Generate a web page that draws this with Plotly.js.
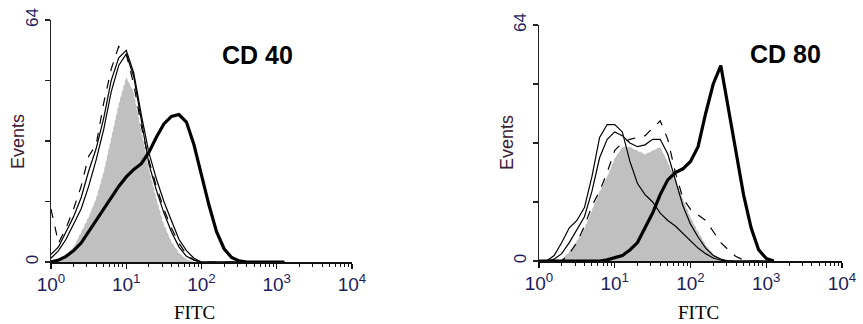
<!DOCTYPE html>
<html><head><meta charset="utf-8">
<script src="https://cdn.plot.ly/plotly-3.0.1.min.js"></script>
<style>html,body{margin:0;padding:0;background:#fff;}#chart{width:863px;height:324px;}</style>
</head><body><div id="chart"></div>
<script>
// log10(FITC) channel positions (decades)
const logGrid = [0,0.1,0.2,0.3,0.4,0.5,0.6,0.7,0.8,0.9,1.0,1.1,1.2,1.3,1.4,1.5,1.6,1.7,1.8,1.9,2.0,2.1,2.2,2.3,2.4,2.5,2.6,2.7,2.8,2.9,3.0,3.1];

// CD 40 panel (events)
const cd40_isotype = [0,0.5,2,4,8,12,17,24,33,42,49,45,35,25,17,10,5.5,2.5,0.8,0,0,0,0,0,0,0,0,0,0,0,0,0];
const cd40_thinA   = [2,4,8,12,17,24,30,38,48,54,56,50,39,29,22,16,11,6,3,1,0,0,0,0,0,0,0,0,0,0,0,0];
const cd40_thinB   = [1,3,6,10,14,20,27,35,45,52,55,49,37,26,19,13,8,4,1.5,0.5,0,0,0,0,0,0,0,0,0,0,0,0];
const cd40_dashed  = [14,5,9,14,20,28,31,42,51,57,55,47,36,27,20,14,9,5,2,0.5,0,0,0,0,0,0,0,0,0,0,0,0];
const cd40_stained = [0,0.5,1.5,3,5,8,11,14,17,20,22.5,24.5,26,29,33,36.5,38.5,39,37,31,23,15,8,3.5,1.2,0.3,0,0,0,0,0,0];

// CD 80 panel (events)
const cd80_isotype = [0,0,0,0.5,2.5,5.5,9,14,19,23,28,31,31,30,29,30,31,27,22,16.5,12,8,4.5,2,0.5,0,0,0,0,0,0,0];
const cd80_thinA   = [0,0,1.5,5,9,11,14.5,23,33.5,37,37,35,27,21,18,16,13,11,9.5,7.5,5.5,3.5,2,0.8,0.2,0,0,0,0,0,0,0];
const cd80_thinB   = [0,0,0.5,2,5,8.5,12,19,28,33,35,34,32,31,31.5,33,33,29,22,15,10,6.5,3.5,1.5,0.5,0,0,0,0,0,0,0];
const cd80_dashed  = [0,0,0,0,2,5,9.5,15,19,24,30,32,33,33.5,34,36,38,33,24,17,14,12.5,11,8,5,3,1.2,0.3,0,0,0,0];
const cd80_stained = [0,0,0,0,0,0,0,0,0,0.3,0.8,1.5,3,5,9,13,18,22,24,25,27,31,40,48,53,41,30,18,9,3,0.7,0];

const xTickVals = [1,10,100,1000,10000];
const xTickText = ['10<sup>0</sup>','10<sup>1</sup>','10<sup>2</sup>','10<sup>3</sup>','10<sup>4</sup>'];
const yTickVals = [0,16,32,48,64];
const yTickText = ['0','','','','64'];
const panelTitles = ['CD 40','CD 80'];
const xLabel = 'FITC';
const yLabel = 'Events';

const fitc = logGrid.map(l => Math.pow(10, l));
const minorVals = [];
for (let d = 0; d < 4; d++) for (let m = 2; m <= 9; m++) minorVals.push(m * Math.pow(10, d));

function panel(iso, a, b, dsh, st, xa, ya) {
  return [
    {x: fitc, y: iso, xaxis: xa, yaxis: ya, type: 'scatter', mode: 'lines', fill: 'tozeroy',
     fillcolor: '#c0c0c0', line: {color: '#ffffff', width: 1, dash: 'dot'}},
    {x: fitc, y: a, xaxis: xa, yaxis: ya, type: 'scatter', mode: 'lines', line: {color: '#000', width: 1.2}},
    {x: fitc, y: b, xaxis: xa, yaxis: ya, type: 'scatter', mode: 'lines', line: {color: '#000', width: 1.2}},
    {x: fitc, y: dsh, xaxis: xa, yaxis: ya, type: 'scatter', mode: 'lines', line: {color: '#000', width: 1.2, dash: 'dash'}},
    {x: fitc, y: st, xaxis: xa, yaxis: ya, type: 'scatter', mode: 'lines', line: {color: '#000', width: 3.2}}
  ];
}

const data = [].concat(
  panel(cd40_isotype, cd40_thinA, cd40_thinB, cd40_dashed, cd40_stained, 'x', 'y'),
  panel(cd80_isotype, cd80_thinA, cd80_thinB, cd80_dashed, cd80_stained, 'x2', 'y2')
);

function xaxis(dom, anchor) {
  return {type: 'log', range: [0, 4], domain: dom, anchor: anchor,
    showline: true, linecolor: '#111', linewidth: 1.5, showgrid: false, zeroline: false,
    tickmode: 'array', tickvals: xTickVals, ticktext: xTickText,
    ticks: 'outside', ticklen: 5, tickwidth: 1.2, tickcolor: '#111',
    tickfont: {family: 'Liberation Sans, Arial', size: 19, color: '#221c5c'},
    minor: {tickmode: 'array', tickvals: minorVals, ticks: 'outside', ticklen: 3, tickwidth: 1, tickcolor: '#111', showgrid: false}};
}
function yaxis(dom, anchor) {
  return {range: [0, 64], domain: dom, anchor: anchor,
    showline: true, linecolor: '#222', linewidth: 1.5, showgrid: false, zeroline: false,
    tickmode: 'array', tickvals: yTickVals, ticktext: yTickText, tickangle: -90,
    ticks: 'outside', ticklen: 5, tickwidth: 1.2, tickcolor: '#222',
    tickfont: {family: 'Liberation Sans, Arial', size: 17, color: '#221c5c'}};
}

const W = 863, H = 324;
function ann(text, px, py, font, angle) {
  return {text: text, xref: 'paper', yref: 'paper', x: px / W, y: 1 - py / H, showarrow: false,
    xanchor: 'center', yanchor: 'middle', textangle: angle || 0, font: font, borderpad: 0};
}
const titleFont = {family: 'Liberation Sans, Arial', size: 25, color: '#000'};
const fitcFont = {family: 'Liberation Serif, Times New Roman', size: 19, color: '#000'};
const evFont = {family: 'Liberation Sans, Arial', size: 18, color: '#3a2034'};

const layout = {
  width: W, height: H, margin: {l: 0, r: 0, t: 0, b: 0},
  paper_bgcolor: '#fff', plot_bgcolor: 'rgba(0,0,0,0)', showlegend: false,
  xaxis: xaxis([51 / W, 352 / W], 'y'),
  yaxis: yaxis([1 - 262 / H, 1 - 20 / H], 'x'),
  xaxis2: xaxis([539 / W, 842 / W], 'y2'),
  yaxis2: yaxis([1 - 261 / H, 1 - 25 / H], 'x2'),
  annotations: [
    ann('<b>' + panelTitles[0] + '</b>', 257, 55, titleFont),
    ann('<b>' + panelTitles[1] + '</b>', 785, 54, titleFont),
    ann(xLabel, 194, 312, fitcFont),
    ann(xLabel, 698, 312, fitcFont),
    ann(yLabel, 18, 142, evFont, -90),
    ann(yLabel, 507, 143, evFont, -90)
  ]
};
Plotly.newPlot('chart', data, layout, {staticPlot: true, displayModeBar: false});
</script></body></html>
